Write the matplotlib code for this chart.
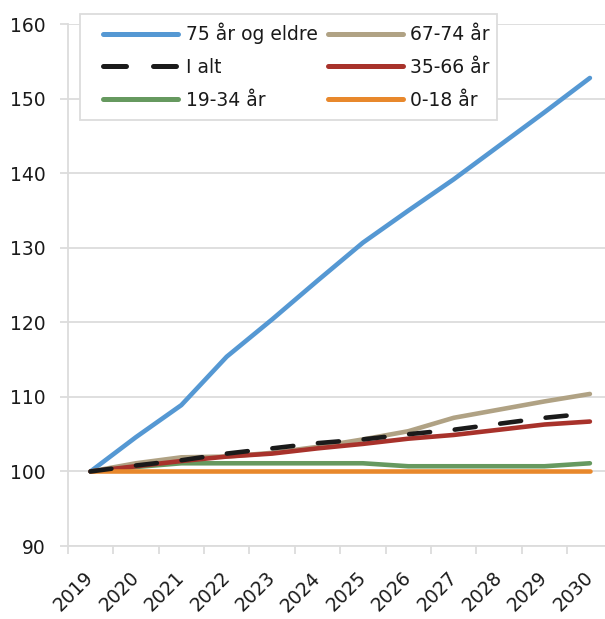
import matplotlib
matplotlib.use("Agg")
import matplotlib.pyplot as plt
from matplotlib.patches import Rectangle
import matplotlib.transforms as mtransforms

years = ["2019", "2020", "2021", "2022", "2023", "2024", "2025", "2026", "2027", "2028", "2029", "2030"]
age_75_plus = [100, 104.6, 108.9, 115.4, 120.4, 125.6, 130.7, 135.0, 139.2, 143.7, 148.2, 152.8]
age_67_74 = [100, 101.1, 101.9, 102.0, 102.5, 103.3, 104.3, 105.4, 107.2, 108.3, 109.4, 110.4]
total = [100, 100.8, 101.5, 102.4, 103.1, 103.8, 104.3, 105.0, 105.6, 106.4, 107.2, 107.8]
age_35_66 = [100, 100.7, 101.4, 102.0, 102.4, 103.1, 103.7, 104.4, 104.9, 105.6, 106.3, 106.7]
age_19_34 = [100, 100.6, 101.1, 101.1, 101.1, 101.1, 101.1, 100.7, 100.7, 100.7, 100.7, 101.1]
age_0_18 = [100, 100, 100, 100, 100, 100, 100, 100, 100, 100, 100, 100]

labels = ["75 år og eldre", "67-74 år", "I alt", "35-66 år", "19-34 år", "0-18 år"]
colors = ["#5598d3", "#b0a284", "#1a1a1a", "#a8322b", "#66995f", "#e8882c"]

plt.rcParams['font.family'] = ['DejaVu Sans']
fig = plt.figure(figsize=(6.05, 6.19), dpi=100)
ax = fig.add_axes([67.8 / 605, 73 / 619, 12 * 45.4 / 605, 521.7 / 619])

x = list(range(len(years)))
lw = 3.3
h75, = ax.plot(x, age_75_plus, color=colors[0], lw=lw, solid_capstyle='round', solid_joinstyle='round', zorder=3)
h67, = ax.plot(x, age_67_74, color=colors[1], lw=lw, solid_capstyle='round', solid_joinstyle='round', zorder=3)
h35, = ax.plot(x, age_35_66, color=colors[3], lw=lw, solid_capstyle='round', solid_joinstyle='round', zorder=4)
h19, = ax.plot(x, age_19_34, color=colors[4], lw=lw, solid_capstyle='round', solid_joinstyle='round', zorder=3)
h0, = ax.plot(x, age_0_18, color=colors[5], lw=lw, solid_capstyle='round', solid_joinstyle='round', zorder=4)
htot, = ax.plot(x, total, color=colors[2], lw=lw, dashes=(4.6, 5.4), dash_capstyle='round', zorder=5)

fs = 13.5
ax.set_xlim(-0.5, 11.5)
ax.set_ylim(90, 160)
ax.set_yticks(range(90, 161, 10))
ax.set_xticks(x)
ax.set_xticklabels(years, rotation=45, ha='right')
ax.set_xticks([i - 0.5 for i in range(len(years))], minor=True)

grid_c = '#dcdcdc'
ax.grid(axis='y', color=grid_c, lw=1.3, zorder=0)
for s in ['top', 'right']:
    ax.spines[s].set_visible(False)
for s in ['left', 'bottom']:
    ax.spines[s].set_color(grid_c)
    ax.spines[s].set_linewidth(1.3)
ax.tick_params(axis='y', length=6, width=1.3, color=grid_c, labelsize=fs, labelcolor='#1a1a1a', pad=10)
ax.tick_params(axis='x', which='major', length=0, labelsize=fs, labelcolor='#1a1a1a', pad=16)
ax.tick_params(axis='x', which='minor', length=5.5, width=1.3, color=grid_c)

offset = mtransforms.ScaledTranslation(7 / 100, 0, fig.dpi_scale_trans)
for lab in ax.get_xticklabels():
    lab.set_transform(lab.get_transform() + offset)

# legend frame
fig.patches.append(Rectangle((80 / 605, 1 - 120 / 619), 417 / 605, 106 / 619,
                             transform=fig.transFigure, facecolor='white',
                             edgecolor=grid_c, lw=1.3, zorder=6))
leg = fig.legend([h75, htot, h19, h67, h35, h0],
                 [labels[0], labels[2], labels[4], labels[1], labels[3], labels[5]],
                 ncol=2, loc='upper left', bbox_to_anchor=(103 / 605, 1 - 23 / 619),
                 bbox_transform=fig.transFigure, frameon=False, borderpad=0,
                 borderaxespad=0, fontsize=fs, handlelength=4.0, handletextpad=0.4,
                 columnspacing=0.55, labelspacing=0.72)
for line in leg.get_lines():
    line.set_linewidth(3.6)
for t in leg.get_texts():
    t.set_color('#1a1a1a')
leg.set_zorder(7)

fig.savefig("out.png", dpi=100)
